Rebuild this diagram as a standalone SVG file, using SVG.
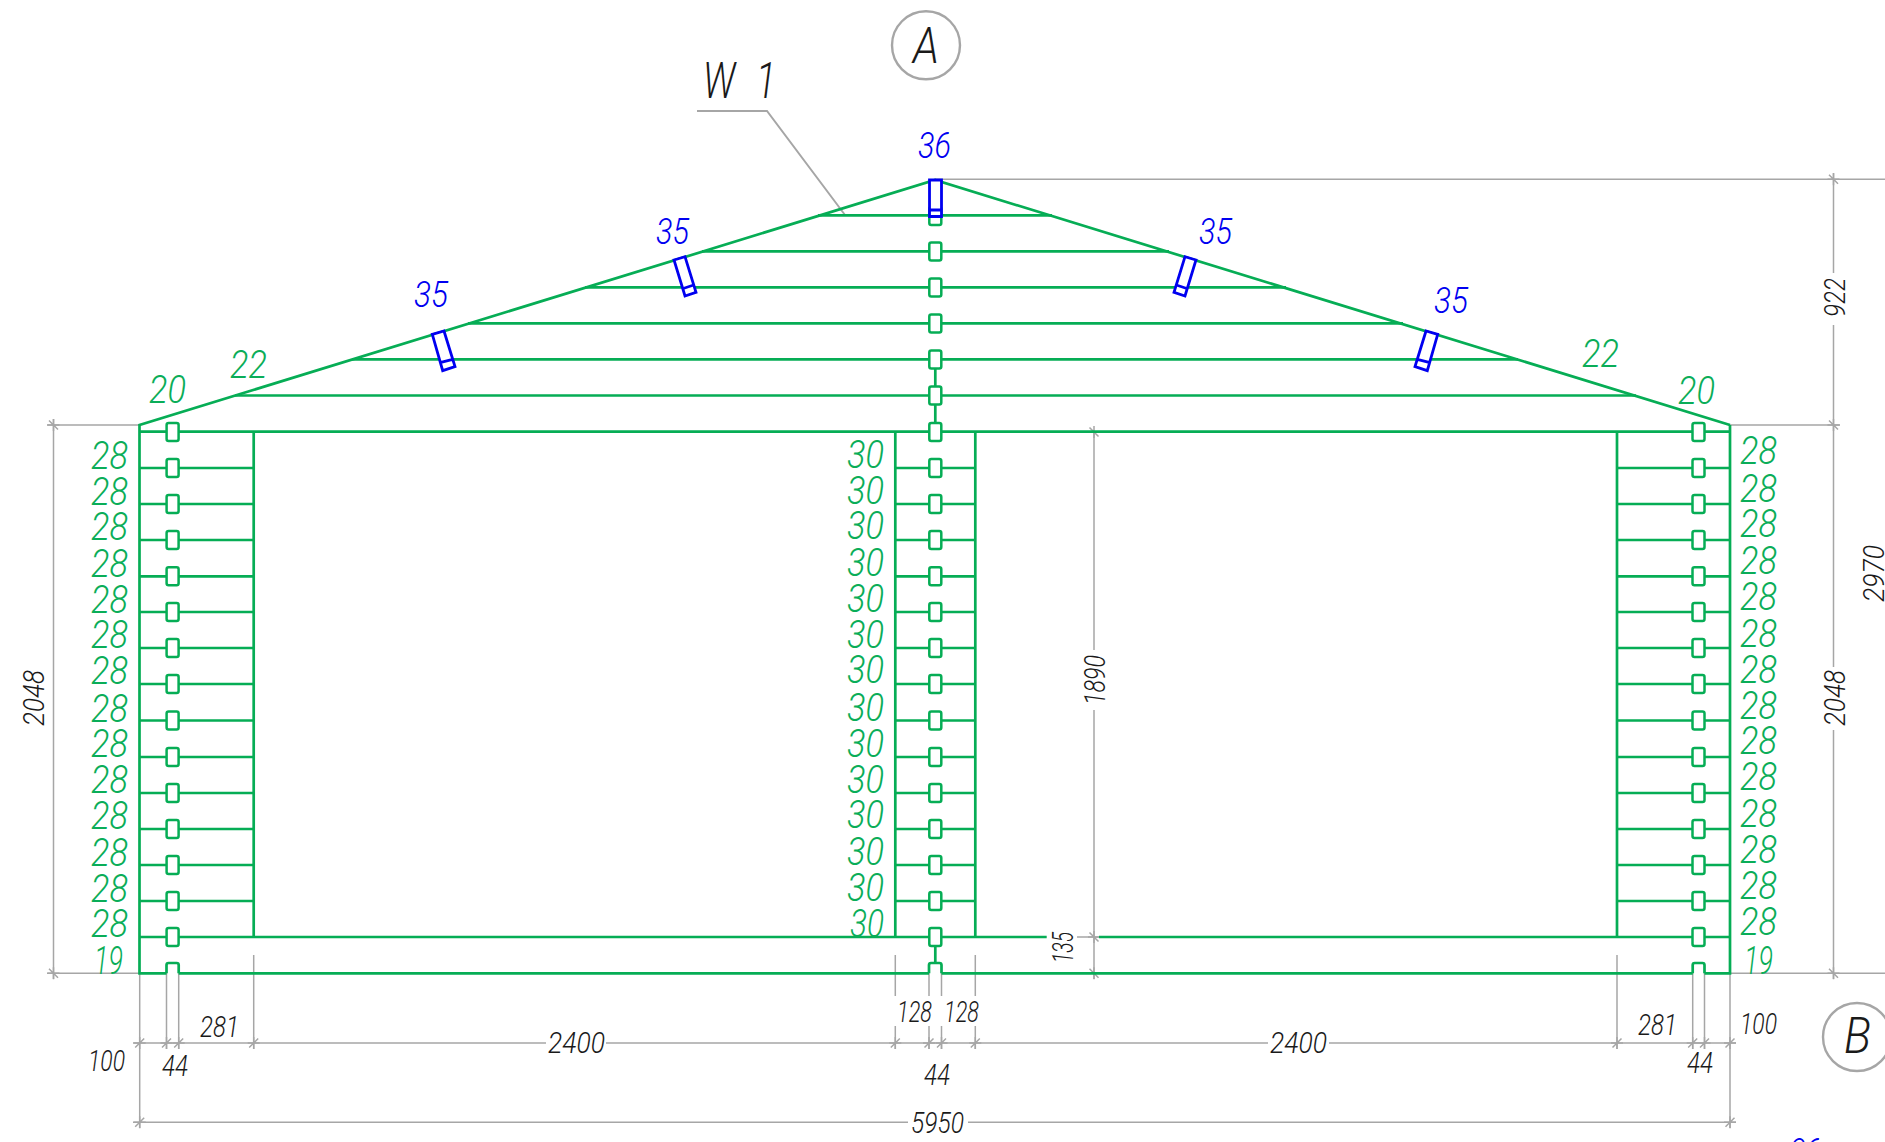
<svg xmlns="http://www.w3.org/2000/svg" width="1885" height="1142" viewBox="0 0 1885 1142">
<style>
text{font-family:"Roboto","Liberation Sans",sans-serif;font-style:italic;font-weight:300}
.g{fill:#0aad58}.b{fill:#0000f0}.k{fill:#1a1a1a}
.s28{font-size:39px}.s36{font-size:36px}.d{font-size:29px}
.big{font-size:50px}
.w{stroke:#06ad55;stroke-width:2.7;fill:none}
.ln{stroke:#a6a6a6;stroke-width:1.5;fill:none}
.dw{stroke:#06ad55;stroke-width:2.5;fill:#fff}
.bl{stroke:#0000f0;stroke-width:2.8;fill:#fff}
</style>
<defs>
<rect id="dw" class="dw" x="-6" y="-9" width="12" height="18" rx="2"/>
<path id="th" class="ln" d="M-6 0H6M0-6V6M-4.5 4.5L4.5-4.5"/>
<path id="tv" class="ln" d="M-6 0H6M0-6V6M-4.5-4.5L4.5 4.5"/>
</defs>
<rect width="1885" height="1142" fill="#fff"/>

<g id="dimension-lines">
<path class="ln" d="M47 425H139.5M47 973.3H139.5M53.5 419V979"/>
<path class="ln" d="M935 179.3H1885M1730 425H1840M1730 973.3H1885M1833.5 173V273M1833.5 325V667M1833.5 730V979"/>
<path class="ln" d="M1094 432V650M1094 710V979M1077 937H1099M1062 973.3H1100"/>
<path class="ln" d="M133 1043H546M606 1043H1268M1329 1043H1736M133 1122.3H908M968 1122.3H1736"/>
<path class="ln" d="M139.7 973V1128M1730 973V1128M253.7 955V1049M1617 955V1049M166.5 973V1049M178.7 973V1049M1692.7 973V1049M1704.5 973V1049"/>
<path class="ln" d="M895.3 955V996M895.3 1026V1049M929 973V996M929 1026V1049M941.5 973V996M941.5 1026V1049M975.3 955V996M975.3 1026V1049"/>
<path stroke="#a6a6a6" stroke-width="2" fill="none" d="M697 111H767L845 215"/>
<use href="#tv" x="53.5" y="425"/><use href="#tv" x="53.5" y="973.3"/>
<use href="#tv" x="1833.5" y="179.3"/><use href="#tv" x="1833.5" y="425"/><use href="#tv" x="1833.5" y="973.3"/>
<use href="#tv" x="1094" y="937"/><use href="#tv" x="1094" y="973.3"/><use href="#tv" x="1094" y="432"/>
<use href="#th" x="139.7" y="1043"/><use href="#th" x="166.5" y="1043"/><use href="#th" x="178.7" y="1043"/><use href="#th" x="253.7" y="1043"/>
<use href="#th" x="895.3" y="1043"/><use href="#th" x="929" y="1043"/><use href="#th" x="941.5" y="1043"/><use href="#th" x="975.3" y="1043"/>
<use href="#th" x="1617" y="1043"/><use href="#th" x="1692.7" y="1043"/><use href="#th" x="1704.5" y="1043"/><use href="#th" x="1730" y="1043"/>
<use href="#th" x="139.7" y="1122.3"/><use href="#th" x="1730" y="1122.3"/>
</g>

<g id="log-wall">
<path class="w" d="M1730 425L935 180L139.5 425V973.3H166.5M178.7 973.3H929M941.5 973.3H1692.7M1704.5 973.3H1730V425"/>
<path class="w" d="M818 215.3H1052M702 251.3H1169M585 287.3H1286M468 323.3H1403M352 359.3H1518M235 395.5H1636"/>
<path class="w" d="M139.5 431.7H1730M139.5 937H1046.7M1099 937H1730"/>
<path class="w" d="M253.7 432V937M895.3 432V937M975.3 432V937M1617 432V937"/>
<path class="w" d="M139.5 468H253.7M139.5 504H253.7M139.5 540H253.7M139.5 576.3H253.7M139.5 612H253.7M139.5 648H253.7M139.5 684H253.7M139.5 720.5H253.7M139.5 757H253.7M139.5 793H253.7M139.5 829H253.7M139.5 865H253.7M139.5 901H253.7"/>
<path class="w" d="M895.3 468H975.3M895.3 504H975.3M895.3 540H975.3M895.3 576.3H975.3M895.3 612H975.3M895.3 648H975.3M895.3 684H975.3M895.3 720.5H975.3M895.3 757H975.3M895.3 793H975.3M895.3 829H975.3M895.3 865H975.3M895.3 901H975.3"/>
<path class="w" d="M1617 468H1730M1617 504H1730M1617 540H1730M1617 576.3H1730M1617 612H1730M1617 648H1730M1617 684H1730M1617 720.5H1730M1617 757H1730M1617 793H1730M1617 829H1730M1617 865H1730M1617 901H1730"/>
<path class="w" d="M935.3 359V432M935.3 937V964"/>
<path class="w" d="M166.5 973.3V965q0-2 2-2H176.7q2 0 2 2V973.3M929 973.3V965q0-2 2-2H939.5q2 0 2 2V973.3M1692.7 973.3V965q0-2 2-2H1702.5q2 0 2 2V973.3"/>
</g>

<g id="dowels-left">
<use href="#dw" x="172.6" y="432"/><use href="#dw" x="172.6" y="468"/><use href="#dw" x="172.6" y="504"/><use href="#dw" x="172.6" y="540"/><use href="#dw" x="172.6" y="576.3"/><use href="#dw" x="172.6" y="612"/><use href="#dw" x="172.6" y="648"/><use href="#dw" x="172.6" y="684"/><use href="#dw" x="172.6" y="720.5"/><use href="#dw" x="172.6" y="757"/><use href="#dw" x="172.6" y="793"/><use href="#dw" x="172.6" y="829"/><use href="#dw" x="172.6" y="865"/><use href="#dw" x="172.6" y="901"/><use href="#dw" x="172.6" y="937"/>
</g>
<g id="dowels-center">
<use href="#dw" x="935.3" y="216"/><use href="#dw" x="935.3" y="251.5"/><use href="#dw" x="935.3" y="287.5"/><use href="#dw" x="935.3" y="323.5"/><use href="#dw" x="935.3" y="359.5"/><use href="#dw" x="935.3" y="395.5"/>
<use href="#dw" x="935.3" y="432"/><use href="#dw" x="935.3" y="468"/><use href="#dw" x="935.3" y="504"/><use href="#dw" x="935.3" y="540"/><use href="#dw" x="935.3" y="576.3"/><use href="#dw" x="935.3" y="612"/><use href="#dw" x="935.3" y="648"/><use href="#dw" x="935.3" y="684"/><use href="#dw" x="935.3" y="720.5"/><use href="#dw" x="935.3" y="757"/><use href="#dw" x="935.3" y="793"/><use href="#dw" x="935.3" y="829"/><use href="#dw" x="935.3" y="865"/><use href="#dw" x="935.3" y="901"/><use href="#dw" x="935.3" y="937"/>
</g>
<g id="dowels-right">
<use href="#dw" x="1698.5" y="432"/><use href="#dw" x="1698.5" y="468"/><use href="#dw" x="1698.5" y="504"/><use href="#dw" x="1698.5" y="540"/><use href="#dw" x="1698.5" y="576.3"/><use href="#dw" x="1698.5" y="612"/><use href="#dw" x="1698.5" y="648"/><use href="#dw" x="1698.5" y="684"/><use href="#dw" x="1698.5" y="720.5"/><use href="#dw" x="1698.5" y="757"/><use href="#dw" x="1698.5" y="793"/><use href="#dw" x="1698.5" y="829"/><use href="#dw" x="1698.5" y="865"/><use href="#dw" x="1698.5" y="901"/><use href="#dw" x="1698.5" y="937"/>
</g>

<g id="rafters">
<path class="bl" d="M929.5 180H941.5V216.5H929.5ZM929.5 210H941.5"/>
<path class="bl" d="M432.3 334.3L444 331L455 366.7L442.7 370.7ZM440 362.7L452.7 359.3"/>
<path class="bl" d="M674 260L685 256.7L696 292.3L685 296ZM681.7 289L693.7 285"/>
<path class="bl" d="M1196 260L1185 256.7L1174 292.3L1185 296ZM1188.3 289L1176.3 285"/>
<path class="bl" d="M1437.7 334.3L1426 331L1415 366.7L1427.3 370.7ZM1430 362.7L1417.3 359.3"/>
</g>

<g id="green-labels" class="g s28">
<text x="149" y="403" textLength="37" lengthAdjust="spacingAndGlyphs">20</text>
<text x="230" y="378" textLength="37" lengthAdjust="spacingAndGlyphs">22</text>
<text x="1582" y="367" textLength="37" lengthAdjust="spacingAndGlyphs">22</text>
<text x="1678" y="404" textLength="37" lengthAdjust="spacingAndGlyphs">20</text>
<text x="91" y="469" textLength="37" lengthAdjust="spacingAndGlyphs">28</text>
<text x="91" y="505" textLength="37" lengthAdjust="spacingAndGlyphs">28</text>
<text x="91" y="540" textLength="37" lengthAdjust="spacingAndGlyphs">28</text>
<text x="91" y="577" textLength="37" lengthAdjust="spacingAndGlyphs">28</text>
<text x="91" y="613" textLength="37" lengthAdjust="spacingAndGlyphs">28</text>
<text x="91" y="648" textLength="37" lengthAdjust="spacingAndGlyphs">28</text>
<text x="91" y="684" textLength="37" lengthAdjust="spacingAndGlyphs">28</text>
<text x="91" y="722" textLength="37" lengthAdjust="spacingAndGlyphs">28</text>
<text x="91" y="757" textLength="37" lengthAdjust="spacingAndGlyphs">28</text>
<text x="91" y="793" textLength="37" lengthAdjust="spacingAndGlyphs">28</text>
<text x="91" y="829" textLength="37" lengthAdjust="spacingAndGlyphs">28</text>
<text x="91" y="866" textLength="37" lengthAdjust="spacingAndGlyphs">28</text>
<text x="91" y="902" textLength="37" lengthAdjust="spacingAndGlyphs">28</text>
<text x="91" y="937" textLength="37" lengthAdjust="spacingAndGlyphs">28</text>
<text x="94" y="974" textLength="29" lengthAdjust="spacingAndGlyphs">19</text>
<text x="847" y="468" textLength="37" lengthAdjust="spacingAndGlyphs">30</text>
<text x="847" y="504" textLength="37" lengthAdjust="spacingAndGlyphs">30</text>
<text x="847" y="539" textLength="37" lengthAdjust="spacingAndGlyphs">30</text>
<text x="847" y="576" textLength="37" lengthAdjust="spacingAndGlyphs">30</text>
<text x="847" y="612" textLength="37" lengthAdjust="spacingAndGlyphs">30</text>
<text x="847" y="648" textLength="37" lengthAdjust="spacingAndGlyphs">30</text>
<text x="847" y="683" textLength="37" lengthAdjust="spacingAndGlyphs">30</text>
<text x="847" y="721" textLength="37" lengthAdjust="spacingAndGlyphs">30</text>
<text x="847" y="757" textLength="37" lengthAdjust="spacingAndGlyphs">30</text>
<text x="847" y="793" textLength="37" lengthAdjust="spacingAndGlyphs">30</text>
<text x="847" y="828" textLength="37" lengthAdjust="spacingAndGlyphs">30</text>
<text x="847" y="865" textLength="37" lengthAdjust="spacingAndGlyphs">30</text>
<text x="847" y="901" textLength="37" lengthAdjust="spacingAndGlyphs">30</text>
<text x="850" y="937" textLength="34" lengthAdjust="spacingAndGlyphs">30</text>
<text x="1740" y="464" textLength="37" lengthAdjust="spacingAndGlyphs">28</text>
<text x="1740" y="502" textLength="37" lengthAdjust="spacingAndGlyphs">28</text>
<text x="1740" y="537" textLength="37" lengthAdjust="spacingAndGlyphs">28</text>
<text x="1740" y="574" textLength="37" lengthAdjust="spacingAndGlyphs">28</text>
<text x="1740" y="610" textLength="37" lengthAdjust="spacingAndGlyphs">28</text>
<text x="1740" y="647" textLength="37" lengthAdjust="spacingAndGlyphs">28</text>
<text x="1740" y="683" textLength="37" lengthAdjust="spacingAndGlyphs">28</text>
<text x="1740" y="719" textLength="37" lengthAdjust="spacingAndGlyphs">28</text>
<text x="1740" y="754" textLength="37" lengthAdjust="spacingAndGlyphs">28</text>
<text x="1740" y="790" textLength="37" lengthAdjust="spacingAndGlyphs">28</text>
<text x="1740" y="827" textLength="37" lengthAdjust="spacingAndGlyphs">28</text>
<text x="1740" y="863" textLength="37" lengthAdjust="spacingAndGlyphs">28</text>
<text x="1740" y="899" textLength="37" lengthAdjust="spacingAndGlyphs">28</text>
<text x="1740" y="935" textLength="37" lengthAdjust="spacingAndGlyphs">28</text>
<text x="1744" y="974" textLength="29" lengthAdjust="spacingAndGlyphs">19</text>
</g>

<g id="blue-labels" class="b s36">
<text x="918" y="158" textLength="33" lengthAdjust="spacingAndGlyphs">36</text>
<text x="414" y="307" textLength="34" lengthAdjust="spacingAndGlyphs">35</text>
<text x="656" y="244" textLength="33" lengthAdjust="spacingAndGlyphs">35</text>
<text x="1199" y="244" textLength="33" lengthAdjust="spacingAndGlyphs">35</text>
<text x="1434" y="313" textLength="34" lengthAdjust="spacingAndGlyphs">35</text>
<text x="1790" y="1164" textLength="31" lengthAdjust="spacingAndGlyphs">36</text>
</g>

<g id="dimension-labels" class="k d">
<text x="200" y="1037" textLength="39" lengthAdjust="spacingAndGlyphs">281</text>
<text x="88" y="1071" textLength="37" lengthAdjust="spacingAndGlyphs">100</text>
<text x="162" y="1076" textLength="26" lengthAdjust="spacingAndGlyphs">44</text>
<text x="548" y="1053" textLength="57" lengthAdjust="spacingAndGlyphs">2400</text>
<text x="897" y="1022" textLength="35" lengthAdjust="spacingAndGlyphs">128</text>
<text x="944" y="1022" textLength="35" lengthAdjust="spacingAndGlyphs">128</text>
<text x="924" y="1085" textLength="26" lengthAdjust="spacingAndGlyphs">44</text>
<text x="1270" y="1053" textLength="57" lengthAdjust="spacingAndGlyphs">2400</text>
<text x="1638" y="1035" textLength="39" lengthAdjust="spacingAndGlyphs">281</text>
<text x="1740" y="1034" textLength="37" lengthAdjust="spacingAndGlyphs">100</text>
<text x="1687" y="1073" textLength="26" lengthAdjust="spacingAndGlyphs">44</text>
<text x="911" y="1133" textLength="53" lengthAdjust="spacingAndGlyphs">5950</text>
<text transform="translate(44 726) rotate(-90)" textLength="56" lengthAdjust="spacingAndGlyphs">2048</text>
<text transform="translate(1845 726) rotate(-90)" textLength="56" lengthAdjust="spacingAndGlyphs">2048</text>
<text transform="translate(1845 317) rotate(-90)" textLength="39" lengthAdjust="spacingAndGlyphs">922</text>
<text transform="translate(1884 602) rotate(-90)" textLength="57" lengthAdjust="spacingAndGlyphs">2970</text>
<text transform="translate(1105 705) rotate(-90)" textLength="50" lengthAdjust="spacingAndGlyphs">1890</text>
<text transform="translate(1073 963) rotate(-90)" textLength="31" lengthAdjust="spacingAndGlyphs">135</text>
</g>

<g id="axis-A">
<circle cx="926" cy="45.3" r="34" fill="none" stroke="#a6a6a6" stroke-width="2.4"/>
<text class="k big" x="913" y="63" textLength="26" lengthAdjust="spacingAndGlyphs">A</text>
</g>
<g id="axis-B">
<circle cx="1857" cy="1037" r="34" fill="none" stroke="#a6a6a6" stroke-width="2.4"/>
<text class="k big" x="1844" y="1053" textLength="27" lengthAdjust="spacingAndGlyphs">B</text>
</g>
<g id="wall-mark">
<text class="k big" x="703" y="98" textLength="73" lengthAdjust="spacingAndGlyphs" style="word-spacing:16px">W 1</text>
</g>
</svg>
